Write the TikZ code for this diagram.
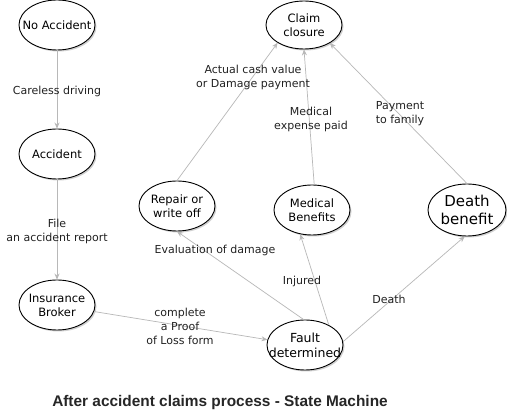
\documentclass[tikz,border=0pt]{standalone}
\usepackage{fontspec}
\setmainfont{DejaVu Sans}
\newfontfamily\titlefont{Liberation Sans}
\usetikzlibrary{shapes.geometric,arrows.meta,shadows}
\definecolor{edgegray}{HTML}{B8B8B8}
\definecolor{labeltext}{HTML}{222222}
\begin{document}
\begin{tikzpicture}[x=1pt,y=-1pt,
  state/.style={ellipse,draw=black,line width=0.9pt,fill=white,minimum width=76pt,minimum height=50pt,inner sep=0pt,
    drop shadow={shadow xshift=1.5pt,shadow yshift=-1.5pt,fill=black!30,opacity=0.6}},
  stext/.style={align=center,inner sep=0pt,font=\fontsize{11.5}{14}\selectfont},
  conn/.style={draw=edgegray,line width=0.7pt,-{Stealth[length=6pt,width=5pt]}},
  lbl/.style={align=center,text=labeltext,font=\fontsize{11}{14}\selectfont,inner sep=0pt}]
\useasboundingbox[fill=white] (0,0) rectangle (507,414);
\node[state,label={[stext]center:No Accident}] (noacc) at (57,25) {};
\node[state,label={[stext]center:Accident}] (acc) at (57,154) {};
\node[state,label={[stext]center:Insurance\\Broker}] (ins) at (57,305) {};
\node[state,minimum height=48pt,label={[stext]center:Claim\\closure}] (claim) at (304,25) {};
\node[state,label={[stext]center:Repair or\\write off}] (repair) at (177,206) {};
\node[state,label={[stext]center:Medical\\Benefits}] (med) at (312,210) {};
\node[state,minimum width=78pt,minimum height=52pt,label={[stext,font=\fontsize{15}{18}\selectfont]center:Death\\benefit}] (death) at (467,210) {};
\node[state,label={[stext,font=\fontsize{12.5}{15}\selectfont]center:Fault\\determined}] (fault) at (305,345) {};
\draw[conn] (noacc) -- (acc);
\draw[conn] (acc) -- (ins);
\draw[conn] (ins.-10) -- (fault.172);
\draw[conn] (fault.93) -- (repair.270);
\draw[conn] (fault.40) -- (med.244);
\draw[conn] (fault.5) -- (death.265);
\draw[conn] (repair.90) -- (claim.214);
\draw[conn] (med.85) -- (claim.270);
\draw[conn] (death.90) -- (claim.-35);
\node[lbl] (l1) at (57,91) {Careless driving};
\node[lbl] (l2) at (57,231) {File\\an accident report};
\node[lbl] (l3) at (180,326) {complete\\a Proof\\of Loss form};
\node[lbl] (l4) at (215,250) {Evaluation of damage};
\node[lbl] (l5) at (302,281) {Injured};
\node[lbl] (l6) at (389,299) {Death};
\node[lbl] (l7) at (253,77) {Actual cash value\\or Damage payment};
\node[lbl] (l8) at (311,119) {Medical\\expense paid};
\node[lbl] (l9) at (400,114) {Payment\\to family};
\node[font=\titlefont\bfseries\fontsize{15.4}{17}\selectfont,text=black!85] (title) at (220,403) {After accident claims process - State Machine};
\end{tikzpicture}
\end{document}
